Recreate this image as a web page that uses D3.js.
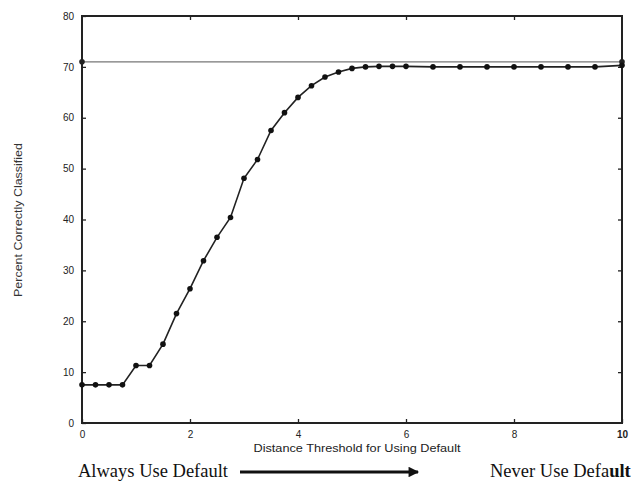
<!DOCTYPE html>
<html>
<head>
<meta charset="utf-8">
<script src="https://cdn.jsdelivr.net/npm/d3@7"></script>
<style>
  body { margin: 0; background: #fff; }
  svg { display: block; }
  .tick text { font-family: "Liberation Sans", Arial, sans-serif; font-size: 10px; fill: #222; }
</style>
</head>
<body>
<div id="chart"></div>
<script>
// Chart data
var thresholds = [0, 0.25, 0.5, 0.75, 1, 1.25, 1.5, 1.75, 2, 2.25, 2.5, 2.75, 3, 3.25, 3.5, 3.75,
                  4, 4.25, 4.5, 4.75, 5, 5.25, 5.5, 5.75, 6, 6.5, 7, 7.5, 8, 8.5, 9, 9.5, 10];
var percentCorrect = [7.5, 7.5, 7.5, 7.5, 11.3, 11.3, 15.5, 21.5, 26.4, 31.9, 36.5, 40.4, 48.1, 51.8, 57.5, 61,
                      64, 66.3, 68, 69, 69.7, 70, 70.1, 70.1, 70.1, 70, 70, 70, 70, 70, 70, 70, 70.3];
var baselineX = [0, 10];
var baselineY = [71, 71];
var xTicks = [0, 2, 4, 6, 8, 10];
var yTicks = [0, 10, 20, 30, 40, 50, 60, 70, 80];

// SVG area
var svgWidth = 631;
var svgHeight = 481;

var margin = { top: 16, right: 9, bottom: 58, left: 82 };
var width = svgWidth - margin.left - margin.right;
var height = svgHeight - margin.top - margin.bottom;

var svg = d3.select("#chart")
  .append("svg")
  .attr("width", svgWidth)
  .attr("height", svgHeight);

var chartGroup = svg.append("g")
  .attr("transform", `translate(${margin.left}, ${margin.top})`);

var xScale = d3.scaleLinear().domain([0, 10]).range([0, width]);
var yScale = d3.scaleLinear().domain([0, 80]).range([height, 0]);

// Axes (ticks point inward)
var bottomAxis = d3.axisBottom(xScale).tickValues(xTicks).tickSize(-4).tickPadding(8).tickFormat(d3.format("d"));
var leftAxis = d3.axisLeft(yScale).tickValues(yTicks).tickSize(-4).tickPadding(8);
var topAxis = d3.axisTop(xScale).tickValues(xTicks.slice(1, -1)).tickSize(-4).tickFormat("");
var rightAxis = d3.axisRight(yScale).tickValues(yTicks.slice(1, -1)).tickSize(-4).tickFormat("");

var xAxis = chartGroup.append("g")
  .attr("transform", `translate(0, ${height})`)
  .call(bottomAxis);
var yAxis = chartGroup.append("g").call(leftAxis);
chartGroup.append("g").call(topAxis);
chartGroup.append("g").attr("transform", `translate(${width}, 0)`).call(rightAxis);

chartGroup.selectAll(".domain").remove();
chartGroup.selectAll(".tick line").attr("stroke", "#222").attr("stroke-width", 1.3);
xAxis.selectAll(".tick text").filter(d => d === 10).attr("font-weight", "bold").attr("font-size", "11px").attr("fill", "#000");

// Frame
chartGroup.append("rect")
  .attr("width", width)
  .attr("height", height)
  .attr("fill", "none")
  .attr("stroke", "#222")
  .attr("stroke-width", 2);

// Reference line
var baseData = baselineX.map((x, i) => ({ x: x, y: baselineY[i] }));
chartGroup.append("path")
  .datum(baseData)
  .attr("fill", "none")
  .attr("stroke", "#777")
  .attr("stroke-width", 1.2)
  .attr("d", d3.line().x(d => xScale(d.x)).y(d => yScale(d.y)));
chartGroup.selectAll(".base-dot")
  .data(baseData)
  .enter()
  .append("circle")
  .attr("cx", d => xScale(d.x))
  .attr("cy", d => yScale(d.y))
  .attr("r", 2.8)
  .attr("fill", "#222");

// Main curve
var curveData = thresholds.map((x, i) => ({ x: x, y: percentCorrect[i] }));
chartGroup.append("path")
  .datum(curveData)
  .attr("fill", "none")
  .attr("stroke", "#222")
  .attr("stroke-width", 1.6)
  .attr("d", d3.line().x(d => xScale(d.x)).y(d => yScale(d.y)));
chartGroup.selectAll(".dot")
  .data(curveData)
  .enter()
  .append("circle")
  .attr("cx", d => xScale(d.x))
  .attr("cy", d => yScale(d.y))
  .attr("r", 2.8)
  .attr("fill", "#111");

// Axis titles
chartGroup.append("text")
  .attr("x", 275)
  .attr("y", height + 29)
  .attr("text-anchor", "middle")
  .attr("textLength", 207)
  .attr("lengthAdjust", "spacingAndGlyphs")
  .style("font-family", "'Liberation Sans', Arial, sans-serif")
  .style("font-size", "10.5px")
  .attr("fill", "#222")
  .text("Distance Threshold for Using Default");

svg.append("text")
  .attr("transform", "rotate(-90)")
  .attr("x", -220)
  .attr("y", 22)
  .attr("text-anchor", "middle")
  .attr("textLength", 154)
  .attr("lengthAdjust", "spacingAndGlyphs")
  .style("font-family", "'Liberation Sans', Arial, sans-serif")
  .style("font-size", "10px")
  .attr("fill", "#333")
  .text("Percent Correctly Classified");

// Bottom annotation
svg.append("text")
  .attr("x", 78)
  .attr("y", 477)
  .style("font-family", "'Liberation Serif', 'Times New Roman', serif")
  .style("font-size", "18.5px")
  .attr("fill", "#111")
  .text("Always Use Default");

svg.append("defs").append("marker")
  .attr("id", "arrow")
  .attr("viewBox", "0 0 10 10")
  .attr("refX", 9)
  .attr("refY", 5)
  .attr("markerWidth", 6)
  .attr("markerHeight", 3.5)
  .attr("orient", "auto")
  .append("path")
  .attr("d", "M0,0 L10,5 L0,10 Z")
  .attr("fill", "#111");

svg.append("line")
  .attr("x1", 240)
  .attr("x2", 418)
  .attr("y1", 472)
  .attr("y2", 472)
  .attr("stroke", "#111")
  .attr("stroke-width", 3)
  .attr("marker-end", "url(#arrow)");

var never = svg.append("text")
  .attr("x", 490)
  .attr("y", 477)
  .style("font-family", "'Liberation Serif', 'Times New Roman', serif")
  .style("font-size", "18.5px")
  .attr("fill", "#111");
never.append("tspan").text("Never Use Defa");
never.append("tspan").attr("font-weight", "bold").text("ult");
</script>
</body>
</html>
